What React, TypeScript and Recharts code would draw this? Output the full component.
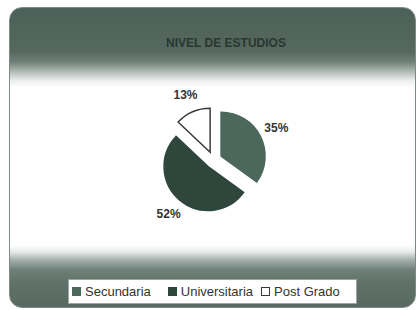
import { PieChart, Pie, Cell, Legend } from "recharts";

const categories = ["Secundaria", "Universitaria", "Post Grado"];
const values = [35, 52, 13];
const fills = ["#4c675c", "#2f463d", "#ffffff"];
const strokes = ["#4c675c", "#2f463d", "#3a3a3a"];

const chartTitle = "NIVEL DE ESTUDIOS";

const data = categories.map((name, i) => ({ name, value: values[i] }));
const total = values.reduce((a, b) => a + b, 0);

// pie centre before explosion, radius, explode distance
const CX = 213.5;
const CY = 160;
const R = 44;
const EXPLODE = 8.5;

const RAD = Math.PI / 180;

const midAngles = values.map((v, i) => {
  const before = values.slice(0, i).reduce((a, b) => a + b, 0);
  return 90 - (360 * (before + v / 2)) / total;
});

function makeLabel(target: number) {
  return (props: any) => {
    const { cx, cy, midAngle, outerRadius, index, percent } = props;
    if (index !== target) return null;
    const r = outerRadius + 18;
    const x = cx + r * Math.cos(midAngle * RAD);
    const y = cy - r * Math.sin(midAngle * RAD);
    return (
      <text
        x={x}
        y={y}
        textAnchor="middle"
        dominantBaseline="central"
        fill="#333"
        fontSize={12}
        fontWeight="bold"
        fontFamily="Liberation Sans, Arial, sans-serif"
      >
        {`${Math.round(percent * 100)}%`}
      </text>
    );
  };
}

function LegendBox() {
  return (
    <div
      style={{
        width: 289,
        height: 25,
        background: "#fff",
        border: "1px solid #9aa59f",
        display: "flex",
        alignItems: "center",
        paddingLeft: 3,
        boxSizing: "border-box",
        fontFamily: "Liberation Sans, Arial, sans-serif",
        fontSize: 13,
        color: "#333",
      }}
    >
      {categories.map((c, i) => (
        <div key={c} style={{ display: "flex", alignItems: "center", marginRight: i === 0 ? 17 : 8 }}>
          <span
            style={{
              width: 7,
              height: 7,
              background: fills[i],
              border: `1px solid ${strokes[i]}`,
              marginRight: 4,
              display: "inline-block",
            }}
          />
          {c}
        </div>
      ))}
    </div>
  );
}

export default function App() {
  return (
    <div style={{ position: "absolute", left: 0, top: 0, width: 419, height: 310, background: "#fff" }}>
      <div
        style={{
          position: "absolute",
          left: 9,
          top: 7,
          width: 407,
          height: 301,
          borderRadius: 13,
          boxSizing: "border-box",
          border: "1px solid #7d8a84",
          background:
            "linear-gradient(to bottom, #4b6058 0px, #56695f 44px, #6f8079 54px, #b3bdb8 64px, #eef1ef 73px, #ffffff 80px, #ffffff 237px, #e6eae8 244px, #a3afaa 252px, #6f8079 262px, #5f7169 275px, #57695f 301px)",
        }}
      />
      <div
        style={{
          position: "absolute",
          left: 126,
          top: 36,
          width: 200,
          textAlign: "center",
          fontFamily: "Liberation Sans, Arial, sans-serif",
          fontSize: 12,
          fontWeight: "bold",
          color: "#2a3631",
        }}
      >
        {chartTitle}
      </div>
      <div style={{ position: "absolute", left: 0, top: 0 }}>
        <PieChart width={419} height={310} margin={{ top: 0, right: 0, bottom: 0, left: 0 }}>
          {categories.map((c, i) => (
            <Pie
              key={c}
              data={data}
              dataKey="value"
              nameKey="name"
              cx={CX + EXPLODE * Math.cos(midAngles[i] * RAD)}
              cy={CY - EXPLODE * Math.sin(midAngles[i] * RAD)}
              outerRadius={R}
              startAngle={90}
              endAngle={-270}
              labelLine={false}
              label={makeLabel(i)}
              legendType="none"
              isAnimationActive={false}
            >
              {data.map((d, j) => (
                <Cell
                  key={d.name}
                  fill={j === i ? fills[j] : "none"}
                  stroke={j === i ? strokes[j] : "none"}
                  strokeWidth={j === i ? 1.5 : 0}
                />
              ))}
            </Pie>
          ))}
          <Legend
            content={() => <LegendBox />}
            wrapperStyle={{ left: 68, top: 279, width: 289, height: 25 }}
          />
        </PieChart>
      </div>
    </div>
  );
}
